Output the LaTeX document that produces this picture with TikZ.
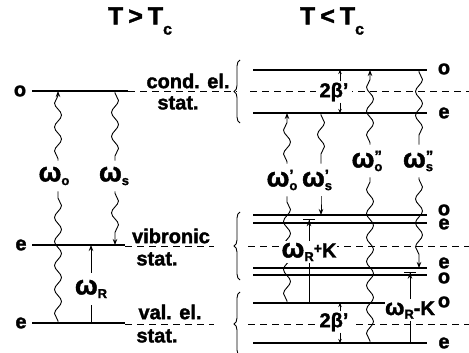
\documentclass[tikz,border=0pt]{standalone}
\usepackage{fontspec}
\setmainfont{Liberation Sans}[BoldFeatures={FakeBold=1.6}]
\usetikzlibrary{arrows.meta,decorations.pathmorphing,decorations.pathreplacing}
\newcommand{\lblfont}{\fontsize{20}{22}\selectfont\bfseries}
\newcommand{\ttlfont}{\fontsize{25}{28}\selectfont\bfseries}
\newcommand{\idx}[1]{\raisebox{-0.35ex}{\fontsize{13}{13}\selectfont #1}}
\newcommand{\om}{{\fontsize{27}{27}\selectfont ω}}
\newcommand{\omsmall}{{\fontsize{23}{23}\selectfont ω}}
\newcommand{\wlab}[2]{\om\rlap{\raisebox{0.6ex}{\fontsize{15}{15}\selectfont #2}}\idx{#1}}
\newcommand{\tcrit}{T\raisebox{-10pt}{\fontsize{16}{16}\selectfont c}}
\tikzset{
  level/.style={line width=1.3pt},
  midline/.style={line width=0.9pt, dash pattern=on 7pt off 5pt},
  wave/.style={decorate, decoration={snake, amplitude=3.5pt, segment length=24pt, pre length=2pt, post length=4pt}, line width=0.9pt},
  photon/.style={wave, -{Stealth[length=6pt,width=4.5pt]}},
  pump/.style={line width=0.9pt},
  pumparrow/.style={line width=0.9pt, -{Stealth[length=6pt,width=4.5pt]}},
  pumpbar/.style={line width=0.9pt, -{Stealth[length=6pt,width=4.5pt]Bar[width=12pt,line width=1.2pt]}},
  gaparrow/.style={line width=0.8pt, -{Stealth[length=4pt,width=3.5pt]}},
  wlabel/.style={fill=white, inner xsep=1pt, inner ysep=6pt},
  gaplabel/.style={fill=white, inner xsep=4pt, inner ysep=1pt},
  lvltext/.style={inner sep=0pt},
  titletext/.style={font=\ttlfont, inner sep=0pt},
  statbrace/.style={decorate, decoration={brace, amplitude=6pt}, line width=0.9pt}
}

\begin{document}
\begin{tikzpicture}[x=1pt, y=-1pt, every node/.style={font=\lblfont}]
  \useasboundingbox (0,0) rectangle (469,353);

  % titles
  \node[titletext] (tabove) at (140,21) {T\kern5pt>\kern5pt\tcrit};
  \node[titletext] (tbelow) at (332,21) {T\kern5pt<\kern5pt\tcrit};

  % levels, T > Tc
  \coordinate (Lo) at (32,91);
  \coordinate (Le) at (32,245);
  \coordinate (Lv) at (32,323);
  \draw[level] (Lo) -- ++(96,0);
  \draw[level] (Le) -- ++(93,0);
  \draw[level] (Lv) -- ++(93,0);
  \draw[midline] (128,91) -- (237,91) (250,91) -- (469,91);
  \draw[midline] (125,246) -- (214,246) (248,246) -- (469,246);
  \draw[midline] (125,324) -- (214,324) (248,324) -- (469,324);

  \node[lvltext] (lo) at (20,91) {o};
  \node[lvltext] (le) at (21,245) {e};
  \node[lvltext] (lv) at (21,323) {e};
  \node[lvltext] (cond) at (188,81) {cond. el.};
  \node[lvltext] (stat1) at (178,103) {stat.};
  \node[lvltext] (vib) at (171,236) {vibronic};
  \node[lvltext] (stat2) at (157,259) {stat.};
  \node[lvltext] (val) at (170,312) {val. el.};
  \node[lvltext] (stat3) at (157,336) {stat.};

  \draw[statbrace] (240,123) -- (240,60);
  \draw[statbrace] (240,280) -- (240,212);
  \draw[statbrace] (240,356) -- (240,292);

  % levels, T < Tc
  \foreach \nm/\y in {Rco/70, Rce/113, Rvo/215, Rve/223, Rve2/268, Rvo2/275, Rbo/303, Rbe/343}{
    \coordinate (\nm) at (253,\y);
    \draw[level] (\nm) -- ++(174,0);
  }
  \coordinate (Rvm) at (253,219);
  \coordinate (Rvm2) at (253,271.5);
  \foreach \nm/\t/\y in {ro1/o/69, re1/e/113, ro2/o/210, re2/e/224, re3/e/263, ro3/o/278, ro4/o/302, re4/e/343}
    \node[lvltext] (\nm) at (444,\y) {\t};

  % columns
  \coordinate (cwo) at (58,0);
  \coordinate (cws) at (115,0);
  \coordinate (cwr) at (91,0);
  \coordinate (cwo1) at (287,0);
  \coordinate (cws1) at (321,0);
  \coordinate (cwo2) at (370,0);
  \coordinate (cws2) at (419,0);
  \coordinate (crp) at (309,0);
  \coordinate (crm) at (410,0);
  \coordinate (cgap) at (340,0);

  % transitions, T > Tc
  \node[wlabel] (wo) at (54,176) {\wlab{o}{}};
  \draw[wave] (cwo |- Lv) -- (cwo |- wo.south);
  \draw[photon] (cwo |- wo.north) -- (cwo |- Lo);
  \node[wlabel] (ws) at (114,176) {\wlab{s}{}};
  \draw[wave] (cws |- Lo) -- (cws |- ws.north);
  \draw[photon] (cws |- ws.south) -- (cws |- Le);
  \node[wlabel, inner ysep=7pt] (wr) at (91,289) {\om\idx{R}};
  \draw[pump] (cwr |- Lv) -- (cwr |- wr.south);
  \draw[pumparrow] (cwr |- wr.north) -- (cwr |- Le);

  % transitions, T < Tc
  \node[wlabel] (wo1) at (282,180) {\wlab{o}{’}};
  \draw[wave] (cwo1 |- Rbo) -- (cwo1 |- wo1.south);
  \draw[photon] (cwo1 |- wo1.north) -- (cwo1 |- Rce);
  \node[wlabel] (ws1) at (317,180) {\wlab{s}{’}};
  \draw[wave] (cws1 |- Rce) -- (cws1 |- ws1.north);
  \draw[photon] (cws1 |- ws1.south) -- (cws1 |- Rvo);
  \node[wlabel] (wo2) at (367,161) {\wlab{o}{”}};
  \draw[wave] (cwo2 |- Rbe) -- (cwo2 |- wo2.south);
  \draw[photon] (cwo2 |- wo2.north) -- (cwo2 |- Rco);
  \node[wlabel] (ws2) at (418,161) {\wlab{s}{”}};
  \draw[wave] (cws2 |- Rco) -- (cws2 |- ws2.north);
  \draw[photon] (cws2 |- ws2.south) -- (cws2 |- Rve2);

  \node[wlabel, inner ysep=2pt] (wrp) at (309,252) {\om\idx{R}\raisebox{.4ex}{\fontsize{14}{14}\selectfont+}K};
  \draw[pump] (crp |- Rbo) -- (crp |- wrp.south);
  \draw[pumpbar] (crp |- wrp.north) -- (crp |- Rvm);
  \node[wlabel, inner ysep=2pt, inner xsep=0pt] (wrm) at (410,310) {\omsmall\idx{R}-K};
  \draw[pump] (crm |- Rbe) -- (crm |- wrm.south);
  \draw[pumpbar] (crm |- wrm.north) -- (crm |- Rvm2);

  \node[gaplabel] (gb1) at (334,92) {2β’};
  \draw[gaparrow] (cgap |- gb1.north) -- (cgap |- Rco);
  \draw[gaparrow] (cgap |- gb1.south) -- (cgap |- Rce);
  \node[gaplabel] (gb2) at (334,322) {2β’};
  \draw[gaparrow] (cgap |- gb2.north) -- (cgap |- Rbo);
  \draw[gaparrow] (cgap |- gb2.south) -- (cgap |- Rbe);
\end{tikzpicture}
\end{document}
